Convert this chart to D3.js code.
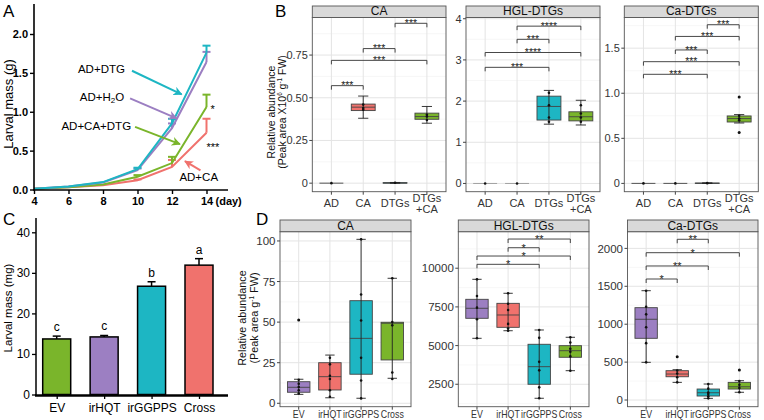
<!DOCTYPE html>
<html><head><meta charset="utf-8">
<script src="https://cdn.jsdelivr.net/npm/d3@7"></script>
<style>body{margin:0;background:#fff}svg{display:block}text{font-family:"Liberation Sans",Arial,sans-serif}</style>
</head><body><script>
// ---------------- DATA ----------------
// Panel A: larval mass (g) over days
const daysA = [4, 6, 8, 10, 12, 14];
const massAD_DTG = [0.01, 0.04, 0.095, 0.26, 0.85, 1.76];
const errAD_DTG = [0, 0, 0, 0.02, 0.06, 0.09];
const massAD_H2O = [0.01, 0.04, 0.09, 0.25, 0.79, 1.64];
const errAD_H2O = [0, 0, 0, 0.02, 0.06, 0.13];
const massAD_CA_DTG = [0.01, 0.03, 0.065, 0.165, 0.34, 1.06];
const errAD_CA_DTG = [0, 0, 0, 0.02, 0.08, 0.16];
const massAD_CA = [0.01, 0.03, 0.055, 0.12, 0.29, 0.73];
const errAD_CA = [0, 0, 0, 0.01, 0.09, 0.18];
const yTicksA = [0, 0.5, 1.0, 1.5, 2.0];

// Panel C: larval mass (mg)
const catsC = ["EV", "irHQT", "irGGPPS", "Cross"];
const massC = [13.7, 14.2, 26.7, 31.9];
const errC = [0.7, 0.35, 1.1, 1.6];
const lettersC = ["c", "c", "b", "a"];
const yTicksC = [0, 10, 20, 30, 40];

// Panel B: box stats [min, q1, median, q3, max]
const catsB = ["AD", "CA", "DTGs", "DTGs\n+CA"];
const boxB_CA = [[0,0,0,0,0],[0.38,0.425,0.445,0.463,0.51],[0,0,0.001,0.003,0.004],[0.351,0.374,0.39,0.41,0.449]];
const ptsB_CA = [[0],[0.44,0.46,0.43],[0.002],[0.39,0.4,0.37]];
const sigB_CA = [["DTGs","DTGs\n+CA","***",0.936],["CA","DTGs","***",0.788],["AD","DTGs\n+CA","***",0.719],["AD","CA","***",0.571]];
const boxB_HGL = [[0,0,0,0,0],[0,0,0,0,0],[1.44,1.54,1.87,2.12,2.26],[1.42,1.52,1.62,1.74,2.02]];
const ptsB_HGL = [[0],[0],[2.2,1.9,1.6,1.5],[1.9,1.7,1.6,1.5]];
const sigB_HGL = [["CA","DTGs\n+CA","****",3.82],["CA","DTGs","***",3.5],["AD","DTGs\n+CA","****",3.18],["AD","DTGs","***",2.82]];
const boxB_Ca = [[0,0,0,0,0],[0,0,0,0,0],[0,0,0.002,0.004,0.006],[0.67,0.681,0.719,0.748,0.763]];
const ptsB_Ca = [[0],[0],[0.003],[0.75,0.72,0.7]];
const outB_Ca = [[],[],[],[0.958,0.564]];
const sigB_Ca = [["DTGs","DTGs\n+CA","***",1.76],["CA","DTGs\n+CA","***",1.63],["CA","DTGs","***",1.48],["AD","DTGs\n+CA","***",1.35],["AD","DTGs","***",1.21]];

// Panel D
const catsD = ["EV", "irHQT", "irGGPPS", "Cross"];
const boxD_CA = [[5.5,6.8,9.85,13.3,14.8],[3.4,8.2,16.4,25,29.7],[3.1,17.9,40,63.2,101],[15.4,26.7,49.3,49.9,77]];
const ptsD_CA = [[14.5,12,10,8,6],[28,24,17,15,8,4],[101,67,51,28,14,3],[77,50,48,19,15]];
const outD_CA = [[51.3],[],[],[]];
const boxD_HGL = [[5470,6763,7410,7990,9283],[5960,6180,6977,7730,8380],[1595,2500,3637,5084,6008],[3378,4244,4670,4994,5536]];
const ptsD_HGL = [[9280,8200,7450,6700,5470],[8380,7700,7300,6400,6100,5960],[6008,5500,3950,3400,2300,1600],[5536,5200,4800,4600,4300,3378]];
const sigD_HGL = [["irHQT","Cross","**",11886],["irHQT","irGGPPS","*",11324],["EV","Cross","*",10788],["EV","irGGPPS","*",10252]];
const boxD_Ca = [[497,814,1065,1218,1442],[233,307,343,387,400],[22,53,96,145,211],[102,145,175,233,255]];
const ptsD_Ca = [[1442,1230,1130,960,750,497],[390,350,300,233],[211,150,100,80,50,22],[250,200,160,102]];
const outD_Ca = [[],[571],[],[396]];
const sigD_Ca = [["irHQT","irGGPPS","**",2120],["EV","Cross","*",1943],["EV","irGGPPS","**",1768],["EV","irHQT","*",1596]];

// colours
const cCyan = "#1DB6C3", cPurple = "#9C7FC2", cGreen = "#7AB52B", cRed = "#F0726D";

// ---------------- DRAW ----------------
const svg = d3.select("body").append("svg").attr("width", 764).attr("height", 420);
svg.append("rect").attr("width", 764).attr("height", 420).attr("fill", "#fff");
const defs = svg.append("defs");
function marker(id, col){
  defs.append("marker").attr("id", id).attr("viewBox","0 0 10 10").attr("refX", 9).attr("refY", 5)
    .attr("markerWidth", 9).attr("markerHeight", 9).attr("markerUnits","userSpaceOnUse").attr("orient","auto")
    .append("path").attr("d","M0,0L10,5L0,10L3,5z").attr("fill", col);
}
marker("mc", cCyan); marker("mp", cPurple); marker("mg", cGreen); marker("mr", cRed);

// panel letters
[["A",3,17],["B",275,17],["C",3,225],["D",256,225]].forEach(([t,x,y])=>{
  svg.append("text").attr("x",x).attr("y",y).attr("font-size",17).text(t);
});

// ---------- Panel A ----------
(function(){
  const g = svg.append("g");
  const x = d3.scaleLinear().domain([4,14]).range([34,206.5]);
  const y = d3.scaleLinear().domain([0,2]).range([189.5,34]);
  const series = [
    {m: massAD_DTG, e: errAD_DTG, c: cCyan},
    {m: massAD_H2O, e: errAD_H2O, c: cPurple},
    {m: massAD_CA_DTG, e: errAD_CA_DTG, c: cGreen},
    {m: massAD_CA, e: errAD_CA, c: cRed}
  ];
  const line = d3.line().x((d,i)=>x(daysA[i])).y(d=>y(d));
  series.slice().reverse().forEach(s=>{
    g.append("path").attr("d", line(s.m)).attr("fill","none").attr("stroke", s.c).attr("stroke-width", 2);
    s.m.forEach((v,i)=>{
      if(s.e[i] > 0){
        const cx = x(daysA[i]);
        g.append("line").attr("x1",cx).attr("x2",cx).attr("y1",y(v)).attr("y2",y(v+s.e[i])).attr("stroke",s.c).attr("stroke-width",2);
        g.append("line").attr("x1",cx-4).attr("x2",cx+4).attr("y1",y(v+s.e[i])).attr("y2",y(v+s.e[i])).attr("stroke",s.c).attr("stroke-width",2);
      }
    });
  });
  // axes
  g.append("line").attr("x1",34).attr("x2",34).attr("y1",4).attr("y2",190.5).attr("stroke","#000").attr("stroke-width",1.6);
  g.append("line").attr("x1",33.2).attr("x2",228).attr("y1",190).attr("y2",190).attr("stroke","#000").attr("stroke-width",1.6);
  const ya = g.append("g").attr("transform","translate(34,0)").call(d3.axisLeft(y).tickValues(yTicksA).tickFormat(d3.format(".1f")).tickSize(4).tickPadding(2));
  const xa = g.append("g").attr("transform","translate(0,190)").call(d3.axisBottom(x).tickValues(daysA).tickFormat(d3.format("d")).tickSize(4).tickPadding(3));
  [ya, xa].forEach(a=>{
    a.select(".domain").remove();
    a.selectAll(".tick line").attr("stroke","#000").attr("stroke-width",1.4);
    a.selectAll(".tick text").attr("fill","#000").attr("font-size",11).attr("font-weight","bold").attr("font-family",'"Liberation Sans",Arial,sans-serif');
  });
  g.append("text").attr("x", x(14)+9).attr("y", 205).attr("font-size",11).attr("font-weight","bold").text("(day)");
  g.append("text").attr("transform","translate(13,104) rotate(-90)").attr("text-anchor","middle").attr("font-size",13).text("Larval mass (g)");

  // annotations (in data units)
  const ann = [
    {t:"AD+DTG", c:cCyan, m:"mc", tx:7.91, ty:1.50, a:[9.68,1.527,12.56,1.223]},
    {t:"AD+H", sub:"2", t2:"O", c:cPurple, m:"mp", tx:7.94, ty:1.136, a:[9.57,1.172,12.27,0.914]},
    {t:"AD+CA+DTG", c:cGreen, m:"mg", tx:7.61, ty:0.764, a:[9.86,0.806,12.46,0.583]},
    {t:"AD+CA", c:cRed, m:"mr", tx:13.55, ty:0.105, a:[13.65,0.245,12.75,0.364]}
  ];
  ann.forEach(d=>{
    const tt = g.append("text").attr("x",x(d.tx)).attr("y",y(d.ty)).attr("text-anchor","middle").attr("font-size",11.5).text(d.t);
    if(d.sub){ tt.append("tspan").attr("font-size",8).attr("dy",2).text(d.sub); tt.append("tspan").attr("dy",-2).text(d.t2); }
    g.append("line").attr("x1",x(d.a[0])).attr("y1",y(d.a[1])).attr("x2",x(d.a[2])).attr("y2",y(d.a[3]))
      .attr("stroke",d.c).attr("stroke-width",2).attr("marker-end",`url(#${d.m})`);
  });
  g.append("text").attr("x",x(14)+4).attr("y",y(0.99)).attr("font-size",11).text("*");
  g.append("text").attr("x",x(14)).attr("y",y(0.49)).attr("font-size",11).text("***");
})();

// ---------- Panel C ----------
(function(){
  const g = svg.append("g");
  const x = d3.scalePoint().domain(catsC).range([56.7,199]);
  const y = d3.scaleLinear().domain([0,40]).range([394.5,232.3]);
  const colors = [cGreen, cPurple, cCyan, cRed];
  const bw = 28;
  catsC.forEach((c,i)=>{
    const cx = x(c);
    g.append("line").attr("x1",cx).attr("x2",cx).attr("y1",y(massC[i])).attr("y2",y(massC[i]+errC[i])).attr("stroke","#000").attr("stroke-width",1.5);
    g.append("line").attr("x1",cx-4).attr("x2",cx+4).attr("y1",y(massC[i]+errC[i])).attr("y2",y(massC[i]+errC[i])).attr("stroke","#000").attr("stroke-width",1.5);
    g.append("rect").attr("x",cx-bw/2).attr("y",y(massC[i])).attr("width",bw).attr("height",y(0)-y(massC[i]))
      .attr("fill",colors[i]).attr("stroke","#000").attr("stroke-width",1.5);
    g.append("text").attr("x",cx).attr("y",y(massC[i]+errC[i])-5).attr("text-anchor","middle").attr("font-size",12).text(lettersC[i]);
  });
  g.append("line").attr("x1",36).attr("x2",36).attr("y1",218).attr("y2",396).attr("stroke","#000").attr("stroke-width",1.5);
  g.append("line").attr("x1",35).attr("x2",228).attr("y1",395.5).attr("y2",395.5).attr("stroke","#000").attr("stroke-width",2.6);
  const ya = g.append("g").attr("transform","translate(36,0)").call(d3.axisLeft(y).tickValues(yTicksC).tickSize(4).tickPadding(2));
  const xa = g.append("g").attr("transform","translate(0,396)").call(d3.axisBottom(x).tickSize(3).tickPadding(4));
  [ya, xa].forEach(a=>{
    a.select(".domain").remove();
    a.selectAll(".tick line").attr("stroke","#000").attr("stroke-width",1.3);
    a.selectAll(".tick text").attr("fill","#000").attr("font-size",12).attr("font-family",'"Liberation Sans",Arial,sans-serif');
  });
  g.append("text").attr("transform","translate(12,308) rotate(-90)").attr("text-anchor","middle").attr("font-size",11.5).text("Larval mass (mg)");
})();

// ---------- box panels ----------
function boxPanel(c){
  const g = svg.append("g");
  const x = d3.scalePoint().domain(c.cats).range([c.left, c.right]).padding(0.6);
  const step = x.step();
  const y = d3.scaleLinear().domain(c.yDom).range([c.bottom, c.stripBottom]);
  const W = c.right - c.left;
  g.append("rect").attr("x",c.left).attr("y",c.stripBottom).attr("width",W).attr("height",c.bottom-c.stripBottom).attr("fill","#fff");
  const ts = c.ticks[1]-c.ticks[0];
  const minors = [];
  for(let v = c.ticks[0]-ts/2; v <= c.yDom[1]; v += ts) if(v >= c.yDom[0]) minors.push(v);
  g.selectAll(null).data(minors).join("line").attr("x1",c.left).attr("x2",c.right).attr("y1",d=>y(d)).attr("y2",d=>y(d)).attr("stroke","#F3F3F3").attr("stroke-width",0.7);
  g.selectAll(null).data(c.ticks).join("line").attr("x1",c.left).attr("x2",c.right).attr("y1",d=>y(d)).attr("y2",d=>y(d)).attr("stroke","#E4E4E4").attr("stroke-width",1);
  g.selectAll(null).data(c.cats).join("line").attr("x1",d=>x(d)).attr("x2",d=>x(d)).attr("y1",c.stripBottom).attr("y2",c.bottom).attr("stroke","#E4E4E4").attr("stroke-width",1);
  const bw = step*c.boxFrac, cw = step*c.capFrac;
  c.cats.forEach((cat,i)=>{
    const s = c.box[i], cx = x(cat);
    const sc = c.zeroCol && c.zeroCol[i] ? c.zeroCol[i] : "#444";
    g.append("rect").attr("x",cx-bw/2).attr("y",y(s[3])).attr("width",bw).attr("height",Math.max(0,y(s[1])-y(s[3])))
      .attr("fill",c.fills[i] || "none").attr("stroke",sc).attr("stroke-width",0.9);
    g.append("line").attr("x1",cx-bw/2).attr("x2",cx+bw/2).attr("y1",y(s[2])).attr("y2",y(s[2])).attr("stroke",sc).attr("stroke-width",0.9);
    if(s[4] > s[0]){
      g.append("line").attr("x1",cx).attr("x2",cx).attr("y1",y(s[0])).attr("y2",y(s[4])).attr("stroke","#222").attr("stroke-width",0.9);
      [s[0],s[4]].forEach(v=>g.append("line").attr("x1",cx-cw/2).attr("x2",cx+cw/2).attr("y1",y(v)).attr("y2",y(v)).attr("stroke","#222").attr("stroke-width",0.9));
    }
    (c.pts[i]||[]).forEach(v=>g.append("circle").attr("cx",cx).attr("cy",y(v)).attr("r",1.3).attr("fill","#111"));
    (c.out && c.out[i] || []).forEach(v=>g.append("circle").attr("cx",cx).attr("cy",y(v)).attr("r",1.5).attr("fill","#111"));
  });
  (c.sig||[]).forEach(([a,b,lab,v])=>{
    const x1 = x(a), x2 = x(b), yy = y(v);
    g.append("path").attr("d",`M${x1},${yy+4}V${yy}H${x2}V${yy+4}`).attr("fill","none").attr("stroke","#333").attr("stroke-width",0.9);
    g.append("text").attr("x",(x1+x2)/2).attr("y",yy+c.starDy).attr("text-anchor","middle").attr("font-size",c.starSize).attr("fill","#222").text(lab);
  });
  g.append("rect").attr("x",c.left).attr("y",c.stripBottom).attr("width",W).attr("height",c.bottom-c.stripBottom).attr("fill","none").attr("stroke","#555").attr("stroke-width",0.9);
  g.append("rect").attr("x",c.left).attr("y",c.stripTop).attr("width",W).attr("height",c.stripBottom-c.stripTop).attr("fill","#D9D9D9").attr("stroke","#555").attr("stroke-width",0.9);
  g.append("text").attr("x",c.left+W/2).attr("y",c.stripBottom-2.2).attr("text-anchor","middle").attr("font-size",12).attr("fill","#111").text(c.title);
  c.ticks.forEach(t=>{
    g.append("line").attr("x1",c.left-3).attr("x2",c.left).attr("y1",y(t)).attr("y2",y(t)).attr("stroke","#444");
    g.append("text").attr("x",c.left-4.5).attr("y",y(t)).attr("dy","0.36em").attr("text-anchor","end").attr("font-size",c.tickSize).attr("fill","#333").text(c.fmt(t));
  });
  c.cats.forEach(cat=>{
    g.append("line").attr("x1",x(cat)).attr("x2",x(cat)).attr("y1",c.bottom).attr("y2",c.bottom+3).attr("stroke","#444");
    const lines = cat.split("\n");
    lines.forEach((l,k)=>{
      g.append("text").attr("transform",`translate(${x(cat)},${c.labelY + (k-(lines.length-1)/2)*11}) scale(${c.catScale},1)`)
        .attr("text-anchor","middle").attr("font-size",c.catSize).attr("fill","#333").text(l);
    });
  });
}

const fB = [null, cRed, cCyan, cGreen];
const baseB = {cats:catsB, stripTop:6, stripBottom:17.5, bottom:191.7, boxFrac:0.75, capFrac:0.32, fills:fB, starDy:3.6, starSize:10.5, tickSize:11, catSize:11, catScale:1, labelY:207};
boxPanel(Object.assign({}, baseB, {left:312.3, right:446, yDom:[-0.05,0.97], ticks:[0,0.25,0.5,0.75], fmt:d=>d===0?"0":d3.format(".2f")(d), box:boxB_CA, pts:ptsB_CA, sig:sigB_CA, title:"CA"}));
boxPanel(Object.assign({}, baseB, {left:466, right:600, yDom:[-0.2,4.03], ticks:[0,1,2,3,4], fmt:d3.format("d"), box:boxB_HGL, pts:ptsB_HGL, sig:sigB_HGL, title:"HGL-DTGs", zeroCol:["#999","#999",null,null]}));
boxPanel(Object.assign({}, baseB, {left:624.3, right:758.3, yDom:[-0.092,1.84], ticks:[0,0.5,1.0,1.5], fmt:d=>d===0?"0":d3.format(".1f")(d), box:boxB_Ca, pts:ptsB_Ca, out:outB_Ca, sig:sigB_Ca, title:"Ca-DTGs"}));

const fD = [cPurple, cRed, cCyan, cGreen];
const baseD = {cats:catsD, stripTop:220, stripBottom:231.7, bottom:406.7, boxFrac:0.72, capFrac:0.3, fills:fD, starDy:4, starSize:11, tickSize:11.5, catSize:10.5, catScale:0.84, labelY:418};
boxPanel(Object.assign({}, baseD, {left:280, right:411, yDom:[-2.1,105.7], ticks:[0,25,50,75,100], fmt:d3.format("d"), box:boxD_CA, pts:ptsD_CA, out:outD_CA, sig:[], title:"CA"}));
boxPanel(Object.assign({}, baseD, {left:458.3, right:589, yDom:[1050,12360], ticks:[2500,5000,7500,10000], fmt:d3.format("d"), box:boxD_HGL, pts:ptsD_HGL, sig:sigD_HGL, title:"HGL-DTGs"}));
boxPanel(Object.assign({}, baseD, {left:627.5, right:758, yDom:[-88,2220], ticks:[0,500,1000,1500,2000], fmt:d3.format("d"), box:boxD_Ca, pts:ptsD_Ca, out:outD_Ca, sig:sigD_Ca, title:"Ca-DTGs"}));

// axis titles for B and D
function ytitle(x1, x2, cy, size, line2parts){
  svg.append("text").attr("transform",`translate(${x1},${cy}) rotate(-90)`).attr("text-anchor","middle").attr("font-size",size).attr("fill","#111").text("Relative abundance");
  const t = svg.append("text").attr("transform",`translate(${x2},${cy}) rotate(-90)`).attr("text-anchor","middle").attr("font-size",size).attr("fill","#111");
  line2parts.forEach(p=>{
    if(p.sup) t.append("tspan").attr("font-size",size*0.6).attr("dy",-size*0.35).text(p.sup);
    else t.append("tspan").attr("dy", p.back ? size*0.35 : 0).text(p.t);
  });
}
ytitle(274.5, 286, 112, 10.5, [{t:"(Peak area X10"},{sup:"6"},{t:" g",back:true},{sup:"-1"},{t:" FW)",back:true}]);
ytitle(246, 258, 318, 10.8, [{t:"(Peak area g"},{sup:"-1"},{t:" FW)",back:true}]);
</script></body></html>
